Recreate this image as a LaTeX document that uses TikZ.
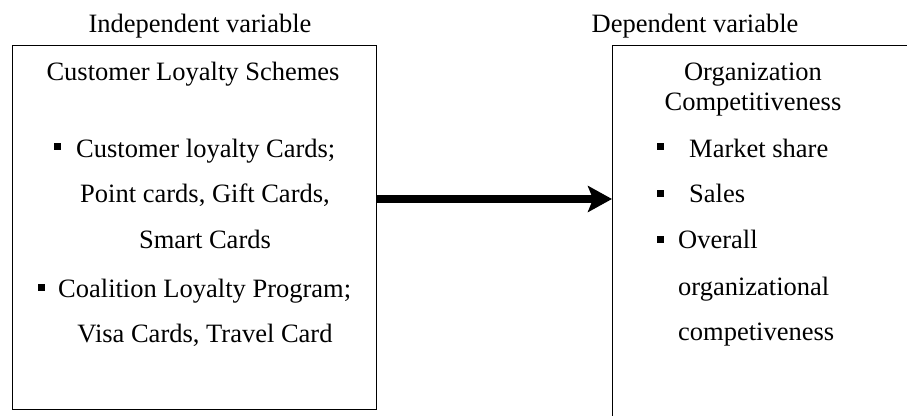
\documentclass[tikz,border=0pt]{standalone}
\usepackage{fontspec}
\setmainfont{Liberation Serif}
\usetikzlibrary{arrows.meta}
\begin{document}
\begin{tikzpicture}[x=1pt,y=-1pt,font=\fontsize{26.5}{32}\selectfont,
  txt/.style={inner sep=0pt,anchor=base},
  ltxt/.style={inner sep=0pt,anchor=base west},
  bul/.style={fill=black,inner sep=0pt,minimum size=7pt},
  boxl/.style={draw,line width=1.4pt,inner sep=0pt,anchor=north west},
  boxr/.style={draw,line width=1.1pt,inner sep=0pt,anchor=north west},
  conn/.style={line width=8pt,-{Stealth[length=24pt,width=26pt,inset=5pt]}}]
\useasboundingbox (0,0) rectangle (907,415);
\clip (0,0) rectangle (907,415);
% boxes
\node[boxl,minimum width=364pt,minimum height=364pt] (lb) at (12,45) {};
\node[boxr,minimum width=330pt,minimum height=420pt] (rb) at (612,45) {};
% titles
\node[txt] (iv) at (200,32) {Independent variable};
\node[txt] (dv) at (695,32) {Dependent variable};
% left contents
\node[txt] (cls) at (193,80) {Customer Loyalty Schemes};
\node[bul] (b1) at (57,146) {};
\node[ltxt] (l1) at (76,157) {Customer loyalty Cards;};
\node[txt] (l2) at (205,202) {Point cards, Gift Cards,};
\node[txt] (l3) at (205,248) {Smart Cards};
\node[bul] (b2) at (41,287) {};
\node[ltxt] (l4) at (58,297) {Coalition Loyalty Program;};
\node[txt] (l5) at (205,342) {Visa Cards, Travel Card};
% right contents
\node[txt] (r0a) at (753,80) {Organization};
\node[txt] (r0b) at (753,110) {Competitiveness};
\node[bul] (b3) at (660,146) {};
\node[ltxt] (r1) at (689,157) {Market share};
\node[bul] (b4) at (660,193) {};
\node[ltxt] (r2) at (689,202) {Sales};
\node[bul] (b5) at (660,239) {};
\node[ltxt] (r3) at (678,248) {Overall};
\node[ltxt] (r4) at (678,295) {organizational};
\node[ltxt] (r5) at (678,340) {competiveness};
% connector
\coordinate (ay) at (0,199);
\draw[conn] (lb.east |- ay) -- (rb.west |- ay);
\end{tikzpicture}
\end{document}
